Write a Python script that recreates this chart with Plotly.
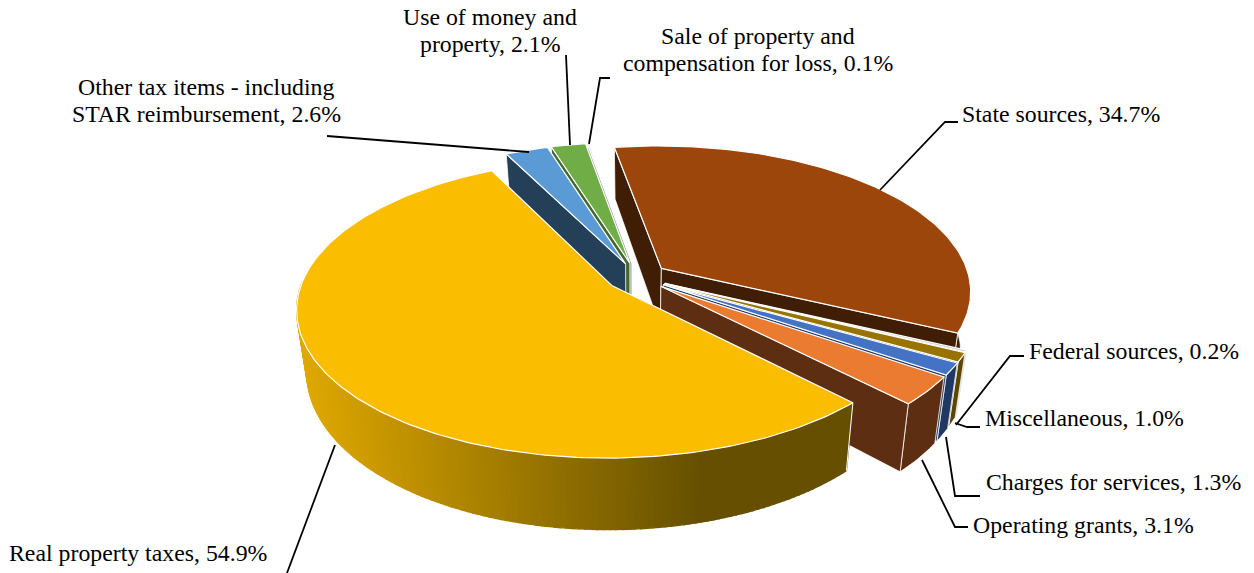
import math
import plotly.graph_objects as go

# ---- data ----
categories = ["State sources", "Federal sources", "Miscellaneous", "Charges for services",
              "Operating grants", "Real property taxes",
              "Other tax items - including STAR reimbursement",
              "Use of money and property", "Sale of property and compensation for loss"]
values = [34.7, 0.2, 1.0, 1.3, 3.1, 54.9, 2.6, 2.1, 0.1]
top_colors = ["#9C460C", "#C8C8C8", "#997300", "#4472C4", "#EB7B30", "#FBBD00", "#5B9BD5", "#70AD47", "#D0D0D0"]
wall_colors = ["#401E05", "#4A4A4A", "#5C4500", "#1F3864", "#5E2E12", "#665000", "#234058", "#43682B", "#A0A0A0"]
label_lines = [["State sources, 34.7%"], ["Federal sources, 0.2%"], ["Miscellaneous, 1.0%"],
               ["Charges for services, 1.3%"], ["Operating grants, 3.1%"], ["Real property taxes, 54.9%"],
               ["Other tax items - including", "STAR reimbursement, 2.6%"],
               ["Use of money and", "property, 2.1%"],
               ["Sale of property and", "compensation for loss, 0.1%"]]
# back-to-front painting order (indices into the lists above)
draw_order = [8, 7, 6, 0, 1, 2, 3, 4, 5]

# ---- layout constants (pixels) ----
W, H = 1254, 573
X0, Y0 = 637, 277
A, B, K, DEPTH = 308, 143.6, 0.152, 60
BOTTOM_SHRINK = 0.03
EXPLODE = 0.1
START = -9.5
FONT = "Liberation Serif"
FS = 23.8
LINE_GAP = 27
label_pos = [(1061, 114), (1134, 351), (1084, 418), (1113, 482), (1083, 525), (138, 553),
             (206, 100), (490, 30), (758, 49)]
leaders = [[(958, 122), (945, 122), (880, 190)],
           [(1024, 356), (1010, 356), (956, 425)],
           [(980, 427), (967, 427), (955, 423)],
           [(980, 496), (955, 496), (946, 437)],
           [(968, 527), (955, 527), (922, 460)],
           [(287, 573), (335, 445)],
           [(327, 136), (529, 152)],
           [(566, 55), (570, 145)],
           [(610, 78), (600, 78), (589, 144)]]


def proj(u, v, z=0.0):
    w = 1 + K * v
    return X0 + A * u / w * (1 - BOTTOM_SHRINK * z), Y0 - (B * v - DEPTH * z) / w


def rim(cu, cv, t, z=0.0):
    r = math.radians(t)
    return proj(cu + math.sin(r), cv + math.cos(r), z)


def poly(fig, pts, fill, line="#FFFFFF", lw=1.0):
    xs = [p[0] for p in pts] + [pts[0][0]]
    ys = [p[1] for p in pts] + [pts[0][1]]
    fig.add_trace(go.Scatter(x=xs, y=ys, mode="lines", fill="toself", fillcolor=fill,
                             line=dict(color=line, width=lw), hoverinfo="skip", showlegend=False))


def mix(c1, c2, f):
    a = [int(c1[i:i + 2], 16) for i in (1, 3, 5)]
    b = [int(c2[i:i + 2], 16) for i in (1, 3, 5)]
    return "#%02X%02X%02X" % tuple(round(p + (q - p) * f) for p, q in zip(a, b))


fig = go.Figure()
total = sum(values)
spans = {}
cum = 0.0
for i, val in enumerate(values):
    t0 = START + cum / total * 360
    cum += val
    spans[i] = (t0, START + cum / total * 360)

for i in draw_order:
    t0, t1 = spans[i]
    m = (t0 + t1) / 2
    cu = EXPLODE * math.sin(math.radians(m))
    cv = EXPLODE * math.cos(math.radians(m))
    n = max(2, int((t1 - t0) / 1.0) + 1)
    ts = [t0 + (t1 - t0) * j / (n - 1) for j in range(n)]
    top_arc = [rim(cu, cv, t) for t in ts]
    # outer wall: only the part that faces the viewer
    wall_ts = [t for t in ts if math.cos(math.radians(t)) < 0.05]
    if len(wall_ts) >= 2:
        wt = [rim(cu, cv, t) for t in wall_ts]
        wb = [rim(cu, cv, t, 1.0) for t in wall_ts]
        if i == 5:  # shaded wall of the largest slice
            for j in range(len(wt) - 1):
                xm = (wt[j][0] + wt[j + 1][0]) / 2
                f = min(1.0, max(0.0, (xm - 300) / 400))
                c = mix("#DFA800", wall_colors[i], f)
                poly(fig, [wt[j], wt[j + 1], wb[j + 1], wb[j]], c, line=c, lw=1.4)
            fig.add_trace(go.Scatter(x=[wt[0][0], wb[0][0]], y=[wt[0][1], wb[0][1]], mode="lines",
                                     line=dict(color="#FFFFFF", width=1.0),
                                     hoverinfo="skip", showlegend=False))
        else:
            poly(fig, wt + wb[::-1], wall_colors[i], lw=0.8)
    # radial cut faces
    ap, apb = proj(cu, cv), proj(cu, cv, 1.0)
    if math.sin(math.radians(t0)) < 0:
        poly(fig, [ap, rim(cu, cv, t0), rim(cu, cv, t0, 1.0), apb], wall_colors[i], lw=0.8)
    if math.sin(math.radians(t1)) > 0:
        poly(fig, [ap, rim(cu, cv, t1), rim(cu, cv, t1, 1.0), apb], wall_colors[i], lw=0.8)
    # top face
    poly(fig, [ap] + top_arc, top_colors[i], lw=1.2)

shapes = []
for pts in leaders:
    path = "M " + " L ".join(f"{x},{y}" for x, y in pts)
    shapes.append(dict(type="path", path=path, xref="x", yref="y",
                       line=dict(color="#000000", width=1.8)))

annotations = []
for lines, (x, y) in zip(label_lines, label_pos):
    y0 = y - LINE_GAP * (len(lines) - 1) / 2
    for k, t in enumerate(lines):
        annotations.append(dict(x=x, y=y0 + k * LINE_GAP, xref="x", yref="y", text=t, showarrow=False,
                                xanchor="center", yanchor="middle",
                                font=dict(family=FONT, size=FS, color="#000000")))

fig.update_layout(width=W, height=H, margin=dict(l=0, r=0, t=0, b=0),
                  paper_bgcolor="#FFFFFF", plot_bgcolor="#FFFFFF", showlegend=False,
                  xaxis=dict(range=[0, W], visible=False, fixedrange=True),
                  yaxis=dict(range=[H, 0], visible=False, fixedrange=True),
                  shapes=shapes, annotations=annotations)
fig.write_html("out.html", config={"displayModeBar": False},
               post_script="document.body.style.margin='0';document.body.style.overflow='hidden';")
